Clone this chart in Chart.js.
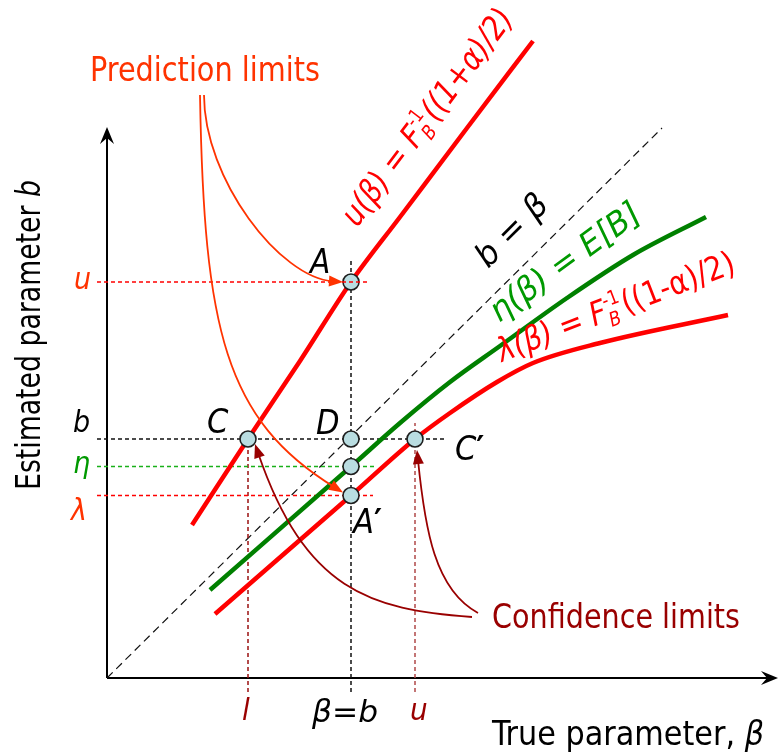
<!DOCTYPE html>
<html>
<head>
<meta charset="utf-8">
<script src="https://cdn.jsdelivr.net/npm/chart.js@4.4.1/dist/chart.umd.min.js"></script>
<style>
  html, body { margin: 0; padding: 0; background: #ffffff; }
  canvas { display: block; }
</style>
</head>
<body>
<canvas id="chart" width="779" height="754"></canvas>
<script>
// ---- values (x = true parameter β, y = estimated parameter b) ----
const upperLimit    = [[8.5, 15.3], [14.1, 23.9], [19.3, 31.7], [24.4, 39.6], [29.3, 46.1], [36.0, 55.0], [42.6, 63.7]];
const expectedValue = [[10.3, 8.8], [24.4, 21.15], [29.3, 25.5], [34.3, 29.6], [39.3, 33.2], [46.0, 38.0], [52.6, 42.3], [59.9, 46.1]];
const lowerLimit    = [[10.8, 6.4], [24.4, 18.25], [30.8, 23.9], [34.3, 26.5], [39.0, 29.6], [42.6, 31.5], [49.3, 33.5], [62.1, 36.3]];
const identityLine  = [[0, 0], [55.5, 55.0]];

const betaEqualsB = 24.4;   // β = b
const bObserved   = 23.9;   // b
const etaValue    = 21.15;  // η
const lambdaValue = 18.25;  // λ
const uValue      = 39.6;   // u (prediction)
const confLower   = 14.1;   // l
const confUpper   = 30.8;   // u (confidence)

const axisLength = { x: 67.2, y: 55.1 };

// ---- look ----
const FONT = '"DejaVu Sans Condensed", "DejaVu Sans", sans-serif';
const RED = '#ff0000';
const ORANGE = '#ff3300';
const DARKRED = '#990000';
const GREEN = '#008000';
const GUIDE_LEFT = -1.0;
const GUIDE_BOTTOM = -1.4;

const toXY = arr => arr.map(([x, y]) => ({ x, y }));

function curve(data, color, order) {
  return { data: toXY(data), borderColor: color, borderWidth: 4.5, showLine: true, pointRadius: 0,
           cubicInterpolationMode: 'monotone', fill: false, clip: false, order };
}
function guide(p0, p1, color, order) {
  return { data: [{ x: p0[0], y: p0[1] }, { x: p1[0], y: p1[1] }], borderColor: color, borderWidth: 1.5,
           borderDash: [4, 3], showLine: true, pointRadius: 0, fill: false, clip: false, order };
}

const keyPoints = [
  { x: betaEqualsB, y: uValue },
  { x: betaEqualsB, y: bObserved },
  { x: betaEqualsB, y: etaValue },
  { x: betaEqualsB, y: lambdaValue },
  { x: confLower, y: bObserved },
  { x: confUpper, y: bObserved }
];

const datasets = [
  guide([GUIDE_LEFT, uValue], [26.3, uValue], RED, 0),
  { data: keyPoints, showLine: false, pointRadius: 8, pointHoverRadius: 8,
    pointBackgroundColor: '#b9dde1', pointBorderColor: '#1e1e1e', pointBorderWidth: 1.6, clip: false, order: 1 },
  curve(upperLimit, RED, 3),
  curve(expectedValue, GREEN, 3),
  curve(lowerLimit, RED, 3),
  guide([betaEqualsB, GUIDE_BOTTOM], [betaEqualsB, 41.8], '#111111', 4),
  guide([GUIDE_LEFT, bObserved], [34.0, bObserved], '#111111', 4),
  guide([GUIDE_LEFT, etaValue], [26.8, etaValue], '#19b019', 4),
  guide([GUIDE_LEFT, lambdaValue], [26.6, lambdaValue], RED, 4),
  guide([confLower, GUIDE_BOTTOM], [confLower, bObserved], '#9a1010', 4),
  guide([confUpper, GUIDE_BOTTOM], [confUpper, 25.5], '#b04848', 4),
  { data: toXY(identityLine), borderColor: '#111111', borderWidth: 1.2, borderDash: [8, 5], showLine: true,
    pointRadius: 0, fill: false, clip: false, order: 5 }
];

// ---- drawing helpers ----
function runFont(p, size) {
  return `${p.b ? 'bold ' : ''}${p.i ? 'italic ' : ''}${size}px ${FONT}`;
}
function runsWidth(ctx, parts, size) {
  let w = 0;
  for (const p of parts) {
    if (p.sub !== undefined) {
      const s = size * 0.6;
      ctx.font = `italic ${s}px ${FONT}`;
      const w1 = ctx.measureText(p.sub).width;
      ctx.font = `${s}px ${FONT}`;
      const w2 = ctx.measureText(p.sup).width;
      w += Math.max(w1, w2) + 1;
    } else {
      ctx.font = runFont(p, size);
      w += ctx.measureText(p.t).width;
    }
  }
  return w;
}
// draws text runs from a left-baseline anchor; `fit` squeezes the run to a given length
function textRuns(ctx, x, y, angleDeg, parts, color, size, fit) {
  ctx.save();
  ctx.translate(x, y);
  ctx.rotate(angleDeg * Math.PI / 180);
  if (fit) ctx.scale(fit / runsWidth(ctx, parts, size), 1);
  ctx.fillStyle = color;
  ctx.textAlign = 'left';
  ctx.textBaseline = 'alphabetic';
  let cx = 0;
  for (const p of parts) {
    if (p.sub !== undefined) {
      const s = size * 0.6;
      ctx.font = `italic ${s}px ${FONT}`;
      const w1 = ctx.measureText(p.sub).width;
      ctx.fillText(p.sub, cx, size * 0.2);
      ctx.font = `${s}px ${FONT}`;
      const w2 = ctx.measureText(p.sup).width;
      ctx.fillText(p.sup, cx, -size * 0.42);
      cx += Math.max(w1, w2) + 1;
    } else {
      ctx.font = runFont(p, size);
      ctx.fillText(p.t, cx, 0);
      cx += ctx.measureText(p.t).width;
    }
  }
  ctx.restore();
}

function arrowHead(ctx, tip, ang, len, half) {
  const c = Math.cos(ang), s = Math.sin(ang);
  ctx.beginPath();
  ctx.moveTo(tip.x, tip.y);
  ctx.lineTo(tip.x - c * len + s * half, tip.y - s * len - c * half);
  ctx.lineTo(tip.x - c * len - s * half, tip.y - s * len + c * half);
  ctx.closePath();
  ctx.fill();
}

function curvedArrow(ctx, p0, c1, c2, tip, color, lw) {
  const ang = Math.atan2(tip.y - c2.y, tip.x - c2.x);
  const len = 14, half = 5.5;
  ctx.save();
  ctx.strokeStyle = color;
  ctx.fillStyle = color;
  ctx.lineWidth = lw;
  ctx.beginPath();
  ctx.moveTo(p0.x, p0.y);
  ctx.bezierCurveTo(c1.x, c1.y, c2.x, c2.y, tip.x - Math.cos(ang) * len * 0.7, tip.y - Math.sin(ang) * len * 0.7);
  ctx.stroke();
  arrowHead(ctx, tip, ang, len, half);
  ctx.restore();
}

function axisArrow(ctx, from, to) {
  const ang = Math.atan2(to.y - from.y, to.x - from.x);
  const c = Math.cos(ang), s = Math.sin(ang);
  const len = 17, half = 7, notch = 11;
  ctx.beginPath();
  ctx.moveTo(from.x, from.y);
  ctx.lineTo(to.x - c * notch, to.y - s * notch);
  ctx.stroke();
  ctx.beginPath();
  ctx.moveTo(to.x, to.y);
  ctx.lineTo(to.x - c * len + s * half, to.y - s * len - c * half);
  ctx.lineTo(to.x - c * notch, to.y - s * notch);
  ctx.lineTo(to.x - c * len - s * half, to.y - s * len + c * half);
  ctx.closePath();
  ctx.fill();
}

const annotations = {
  id: 'annotations',
  beforeDatasetsDraw(chart) {
    const { ctx, scales: { x, y } } = chart;
    const o = { x: x.getPixelForValue(0), y: y.getPixelForValue(0) };
    ctx.save();
    ctx.strokeStyle = '#000';
    ctx.fillStyle = '#000';
    ctx.lineWidth = 2;
    axisArrow(ctx, o, { x: x.getPixelForValue(axisLength.x) - 1, y: o.y });
    axisArrow(ctx, o, { x: o.x, y: y.getPixelForValue(axisLength.y) });
    ctx.restore();
  },
  afterDatasetsDraw(chart) {
    const { ctx, scales: { x, y } } = chart;
    const P = (vx, vy) => ({ x: x.getPixelForValue(vx), y: y.getPixelForValue(vy) });
    const A = P(betaEqualsB, uValue), D = P(betaEqualsB, bObserved);
    const E = P(betaEqualsB, etaValue), A2 = P(betaEqualsB, lambdaValue);
    const C = P(confLower, bObserved), C2 = P(confUpper, bObserved);

    // prediction-limit arrows
    curvedArrow(ctx, { x: 204, y: 95 }, { x: 204, y: 179 }, { x: 280, y: 278 }, { x: A.x - 8, y: A.y }, ORANGE, 1.8);
    curvedArrow(ctx, { x: 200, y: 95 }, { x: 204, y: 330 }, { x: 225, y: 420 }, { x: A2.x - 8, y: A2.y - 3 }, ORANGE, 1.8);
    // confidence-limit arrows
    curvedArrow(ctx, { x: 472, y: 617 }, { x: 370, y: 610 }, { x: 305, y: 590 }, { x: C.x + 7, y: C.y + 5 }, DARKRED, 1.8);
    curvedArrow(ctx, { x: 478, y: 613 }, { x: 435, y: 590 }, { x: 425, y: 530 }, { x: C2.x + 2, y: C2.y + 11 }, DARKRED, 1.8);

    // captions
    textRuns(ctx, 90, 81, 0, [{ t: 'Prediction limits' }], ORANGE, 33, 230);
    textRuns(ctx, 492, 628, 0, [{ t: 'Confidence limits' }], DARKRED, 33, 248);
    textRuns(ctx, 492, 745, 0, [{ t: 'True parameter, ' }, { t: 'β', i: true }], '#000', 33, 272);
    textRuns(ctx, 40, 490, -90, [{ t: 'Estimated parameter ' }, { t: 'b', i: true }], '#000', 33, 310);

    // level labels on the left
    textRuns(ctx, 74, A.y + 7, 0, [{ t: 'u', i: true }], ORANGE, 30);
    textRuns(ctx, 73, D.y - 7, 0, [{ t: 'b', i: true }], '#000', 30);
    textRuns(ctx, 73, E.y + 6, 0, [{ t: 'η', i: true }], '#009900', 30);
    textRuns(ctx, 71, A2.y + 24, 0, [{ t: 'λ', i: true }], ORANGE, 30);

    // point letters
    textRuns(ctx, A.x - 41, A.y - 9, 0, [{ t: 'A', i: true }], '#000', 33);
    textRuns(ctx, C.x - 41, C.y - 6, 0, [{ t: 'C', i: true }], '#000', 34);
    textRuns(ctx, D.x - 35, D.y - 5, 0, [{ t: 'D', i: true }], '#000', 34);
    textRuns(ctx, A2.x + 2, A2.y + 37, 0, [{ t: 'A' , i: true }, { t: '′', b: true }], '#000', 34);
    textRuns(ctx, C2.x + 40, C2.y + 21, 0, [{ t: 'C', i: true }, { t: '′', b: true }], '#000', 34);

    // labels under the β axis
    textRuns(ctx, C.x - 6, 720, 0, [{ t: 'l', i: true }], DARKRED, 31);
    textRuns(ctx, D.x - 39, 722, 0, [{ t: 'β=b', i: true }], '#000', 31, 66);
    textRuns(ctx, C2.x - 5, 720, 0, [{ t: 'u', i: true }], DARKRED, 31);

    // curve labels
    textRuns(ctx, 357, 228, -53, [{ t: 'u(β) = F', i: true }, { sub: 'B', sup: '-1' }, { t: '((1+α)/2)', i: true }], RED, 33, 262);
    textRuns(ctx, 488, 269, -45, [{ t: 'b = β', i: true }], '#000', 33, 88);
    textRuns(ctx, 499, 323, -36, [{ t: 'η(β) = E[B]', i: true }], '#009900', 33, 178);
    textRuns(ctx, 502, 362, -21, [{ t: 'λ(β) = F', i: true }, { sub: 'B', sup: '-1' }, { t: '((1-α)/2)' }], RED, 33, 252);
  }
};

new Chart(document.getElementById('chart'), {
  type: 'scatter',
  data: { datasets },
  options: {
    responsive: false,
    animation: false,
    events: [],
    layout: { autoPadding: false, padding: { left: 107, right: 0, top: 30, bottom: 76 } },
    scales: {
      x: { type: 'linear', min: 0, max: 67.2, display: false },
      y: { type: 'linear', min: 0, max: 64.8, display: false }
    },
    plugins: { legend: { display: false }, tooltip: { enabled: false } }
  },
  plugins: [annotations]
});
</script>
</body>
</html>
